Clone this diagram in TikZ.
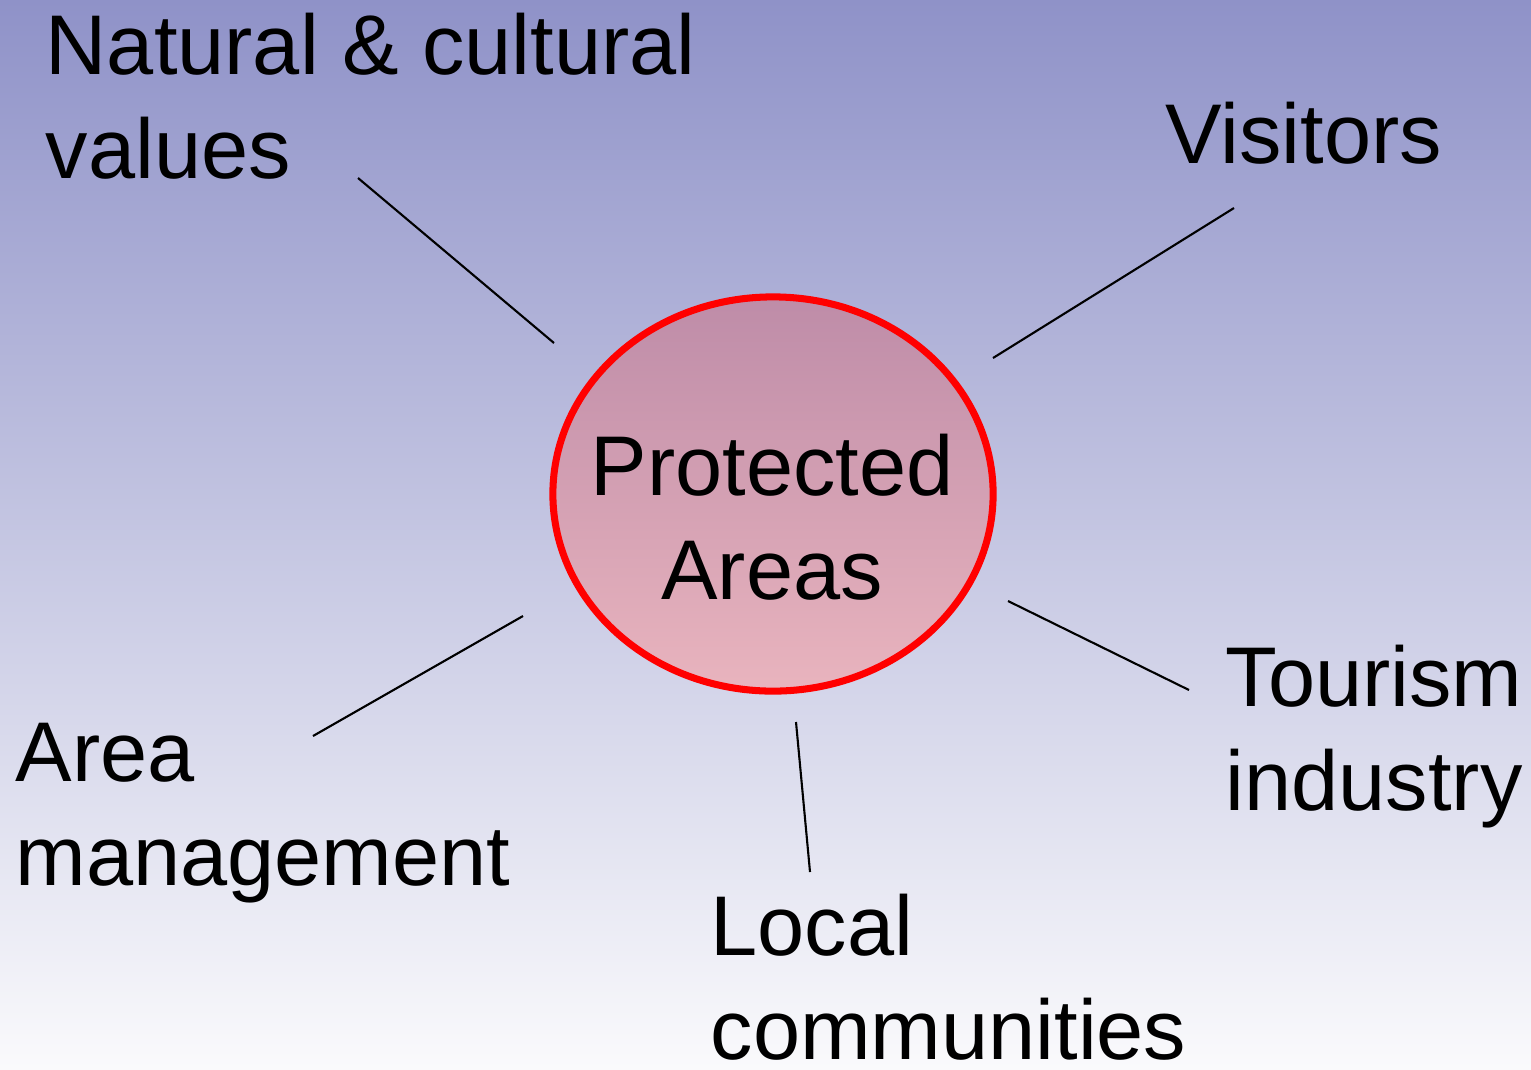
\documentclass[tikz,border=0pt]{standalone}
\usepackage{fontspec}
\setmainfont{Liberation Sans}
\usetikzlibrary{shapes.geometric, calc}
\definecolor{SkyTop}{RGB}{143, 146, 200}
\definecolor{SkyBottom}{RGB}{250, 250, 252}
\definecolor{PinkTop}{RGB}{190, 140, 168}
\definecolor{PinkBottom}{RGB}{233, 180, 190}

\begin{document}
\begin{tikzpicture}[
    x=0.01cm, y=-0.01cm,
    stake/.style={inner sep=0pt, anchor=base west, align=left,
      font=\fontsize{24.1}{29.3}\selectfont},
    hub/.style={ellipse, draw=red, line width=2pt, minimum width=4.4cm,
      minimum height=3.94cm, top color=PinkTop, bottom color=PinkBottom},
    spoke/.style={line width=0.6pt}
  ]
    % Background
    \shade[top color=SkyTop, bottom color=SkyBottom] (0,0) rectangle (1531,1069);
    \useasboundingbox (0,0) rectangle (1531,1069);

    % Centre
    \node[hub] (pa) at (773,494) {};
    \node[stake, anchor=base, align=center] (pal) at (772,599) {Protected\\Areas};

    % Stakeholders (base = last line)
    \node[stake] (nat) at (45,178) {Natural \& cultural\\values};
    \node[stake] (vis) at (1165,163) {Visitors};
    \node[stake] (tour) at (1225,810) {Tourism\\industry};
    \node[stake] (loc) at (710,1059) {Local\\communities};
    \node[stake] (area) at (15,885) {Area\\management};

    % Spoke ends
    \coordinate (n1) at (358,178);  \coordinate (n2) at (554,343);
    \coordinate (v1) at (1234,208); \coordinate (v2) at (993,358);
    \coordinate (t1) at (1189,690); \coordinate (t2) at (1008,601);
    \coordinate (l1) at (810,872);  \coordinate (l2) at (796,722);
    \coordinate (a1) at (313,736);  \coordinate (a2) at (523,616);

    \draw[spoke] (n1) -- (n2);
    \draw[spoke] (v1) -- (v2);
    \draw[spoke] (t1) -- (t2);
    \draw[spoke] (l1) -- (l2);
    \draw[spoke] (a1) -- (a2);
  \end{tikzpicture}
\end{document}
